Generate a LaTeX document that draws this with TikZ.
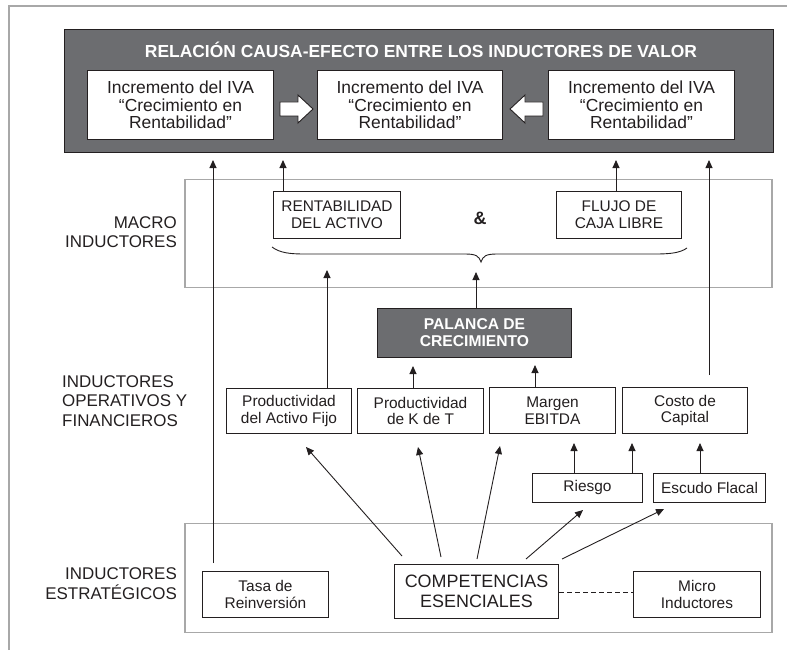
\documentclass[tikz,border=0pt]{standalone}
\usepackage{fontspec}
\setmainfont{Liberation Sans}
\usetikzlibrary{arrows.meta,calc}
\definecolor{darkbox}{HTML}{6C6D70}
\definecolor{lightline}{HTML}{A8A8A8}
\definecolor{ink}{HTML}{231F20}
\begin{document}
\begin{tikzpicture}[x=1bp,y=-1bp,
  box/.style={draw=ink,line width=0.9bp,fill=white,inner sep=0pt,align=center,text=ink,font=\fontsize{15.5}{17}\selectfont},
  hbox/.style={box,font=\fontsize{17.5}{17.5}\selectfont},
  darknode/.style={draw=ink,line width=0.9bp,fill=darkbox,inner sep=0pt,align=center,text=white,font=\bfseries\fontsize{15.7}{17}\selectfont},
  region/.style={draw=lightline,line width=1.2bp,fill=none,inner sep=0pt},
  label/.style={inner sep=0pt,text=ink,font=\fontsize{17}{19.5}\selectfont},
  arr/.style={draw=ink,line width=0.9bp,-{Triangle[length=8bp,width=7bp]}},
  plain/.style={draw=ink,line width=0.9bp},
  hollow/.style={draw=ink,line width=0.9bp,fill=white,line join=miter}
]
\useasboundingbox (0,0) rectangle (787,657);
% frame
\draw[lightline,line width=1.5bp] (9,650) -- (9,6) -- (787,6);
% header
\node[draw=ink,line width=0.8bp,fill=darkbox,minimum width=712,minimum height=124,inner sep=0pt] (head) at (419,91) {};
\node[text=white,inner sep=0pt,font=\bfseries\fontsize{17.5}{17.5}\selectfont] (title) at (421,50) {RELACIÓN CAUSA-EFECTO ENTRE LOS INDUCTORES DE VALOR};
\node[hbox,minimum width=187,minimum height=70] (i1) at (180.5,105) {Incremento del IVA\\“Crecimiento en\\Rentabilidad”};
\node[hbox,minimum width=186,minimum height=70] (i2) at (410,105) {Incremento del IVA\\“Crecimiento en\\Rentabilidad”};
\node[hbox,minimum width=187,minimum height=70] (i3) at (641.5,105) {Incremento del IVA\\“Crecimiento en\\Rentabilidad”};
\draw[hollow] (280,102) -- (298,102) -- (298,95) -- (313,109) -- (298,123) -- (298,116) -- (280,116) -- cycle;
\draw[hollow] (543,102) -- (525,102) -- (525,95) -- (510,109) -- (525,123) -- (525,116) -- (543,116) -- cycle;
% regions
\node[region,minimum width=589,minimum height=109] (macro) at (478.5,233.5) {};
\node[region,minimum width=589,minimum height=110] (estr) at (478.5,578) {};
% section labels
\node[label,align=right,anchor=east] (lmacro) at (177,232) {MACRO\\INDUCTORES};
\node[label,align=left,anchor=west] (lop) at (62,401) {INDUCTORES\\OPERATIVOS Y\\FINANCIEROS};
\node[label,align=right,anchor=east] (lest) at (177,583.5) {INDUCTORES\\ESTRATÉGICOS};
% macro boxes
\node[box,minimum width=128,minimum height=48] (rent) at (337,215) {RENTABILIDAD\\DEL ACTIVO};
\node[box,minimum width=126,minimum height=48] (flujo) at (619,215) {FLUJO DE\\CAJA LIBRE};
\node[inner sep=0pt,text=ink,font=\bfseries\fontsize{18}{18}\selectfont] (amp) at (480,218) {\&};
\draw[plain] (272,247) .. controls (280,253) and (290,254) .. (305,254) -- (465,254) .. controls (476,254) and (479,256) .. (481,262) .. controls (483,256) and (486,254) .. (497,254) -- (655,254) .. controls (670,254) and (680,253) .. (687,248);
% palanca
\node[darknode,minimum width=195,minimum height=50] (pal) at (474.5,333) {PALANCA DE\\CRECIMIENTO};
% operativos
\node[box,minimum width=126,minimum height=46] (paf) at (289,411) {Productividad\\del Activo Fijo};
\node[box,minimum width=127,minimum height=46] (pkt) at (420.5,411) {Productividad\\de K de T};
\node[box,minimum width=127,minimum height=47] (marg) at (552.5,410.5) {Margen\\EBITDA};
\node[box,minimum width=126,minimum height=47] (costo) at (685,410.5) {Costo de\\Capital};
\node[box,minimum width=111,minimum height=29] (ries) at (587.5,487.5) {Riesgo};
\node[box,minimum width=113,minimum height=29] (escu) at (709.5,487.5) {Escudo Flacal};
% estrategicos
\node[box,minimum width=127,minimum height=47] (tasa) at (265.5,594.5) {Tasa de\\Reinversión};
\node[box,minimum width=165,minimum height=55,font=\fontsize{18}{20}\selectfont] (comp) at (476.5,591.5) {COMPETENCIAS\\ESENCIALES};
\node[box,minimum width=128,minimum height=47] (micro) at (697,594.5) {Micro\\Inductores};
% connectors to header
\coordinate (tasaS) at (213,563);
\coordinate (costoS) at (709,375);
\draw[arr] (tasaS) -- (tasaS |- 0,160);
\draw[arr] (rent.north -| 283,0) -- (283,160);
\draw[arr] (flujo.north -| 616,0) -- (616,160);
\draw[arr] (costoS) -- (709,160);
% into macro
\draw[arr] (paf.north -| 327,0) -- (327,270);
\draw[arr] (pal.north -| 476,0) -- (476,272);
% into palanca
\draw[arr] (pkt.north -| 413,0) -- (413,366);
\draw[arr] (marg.north -| 535,0) -- (535,365);
% riesgo / escudo
\draw[arr] (ries.north -| 574,0) -- (574,443);
\draw[arr] (ries.north -| 632,0) -- (632,443);
\draw[arr] (escu.north -| 700,0) -- (700,443);
% from competencias
\coordinate (c1) at (402,556);
\coordinate (c2) at (441,557);
\coordinate (c3) at (477,559);
\coordinate (c4) at (526,559);
\coordinate (c5) at (562,559);
\draw[arr] (c1) -- (306,447);
\draw[arr] (c2) -- (418,447);
\draw[arr] (c3) -- (500,446);
\draw[arr] (c4) -- (583,510);
\draw[arr] (c5) -- (664,509);
\draw[plain,dashed,dash pattern=on 5bp off 3bp] (comp.east |- 0,592) -- (micro.west |- 0,592);
\end{tikzpicture}
\end{document}
